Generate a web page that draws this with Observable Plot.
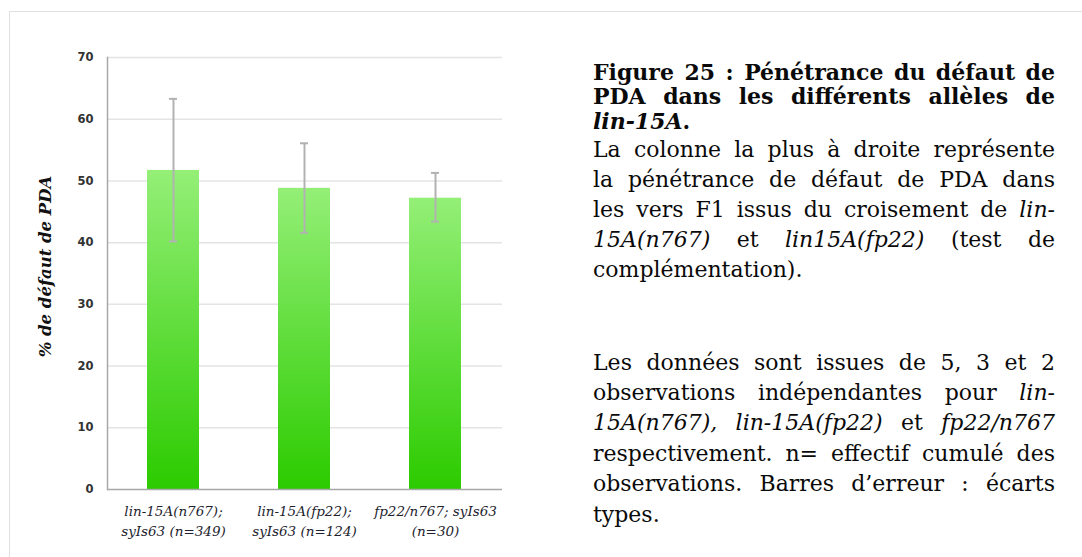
<!DOCTYPE html>
<html><head><meta charset="utf-8">
<script src="https://cdn.jsdelivr.net/npm/d3@7"></script>
<script src="https://cdn.jsdelivr.net/npm/@observablehq/plot@0.6"></script>
<style>
html,body{margin:0;padding:0;background:#fff;}
#page{position:relative;width:1082px;height:557px;overflow:hidden;background:#fff;}
#border{position:absolute;left:9px;top:11px;width:1200px;height:700px;border-top:1.5px solid #e0e0e0;border-left:1.5px solid #e0e0e0;}
#chart{position:absolute;left:0;top:0;}
#caption{position:absolute;left:593px;top:0;width:462px;height:557px;font-family:"DejaVu Serif";font-size:22px;color:#0a0a0a;}
.ln{position:absolute;left:0;white-space:nowrap;line-height:30px;display:inline-block;}
.b{font-weight:bold;}
</style></head><body>
<div id="page"><div id="border"></div><div id="chart"></div><div id="caption"></div></div>
<script>
// ---- data ----
const categories = ["lin-15A(n767);\nsyIs63 (n=349)", "lin-15A(fp22);\nsyIs63 (n=124)", "fp22/n767; syIs63\n(n=30)"];
const means = [51.7, 48.8, 47.2];
const errLow = [40.2, 41.6, 43.4];
const errHigh = [63.3, 56.1, 51.3];
const yTicks = [0, 10, 20, 30, 40, 50, 60, 70];
const yLabel = "% de défaut de PDA";

const titleLines = [
  "Figure 25 : Pénétrance du défaut de",
  "PDA dans les différents allèles de",
  "<i>lin-15A</i>."
];
const para1Lines = [
  "La colonne la plus à droite représente",
  "la pénétrance de défaut de PDA dans",
  "les vers F1 issus du croisement de <i>lin-</i>",
  "<i>15A(n767)</i> et <i>lin15A(fp22)</i> (test de",
  "complémentation)."
];
const para2Lines = [
  "Les données sont issues de 5, 3 et 2",
  "observations indépendantes pour <i>lin-</i>",
  "<i>15A(n767), lin-15A(fp22)</i> et <i>fp22/n767</i>",
  "respectivement. n= effectif cumulé des",
  "observations. Barres d’erreur : écarts",
  "types."
];

const data = categories.map((c, i) => ({cat: c, v: means[i], lo: errLow[i], hi: errHigh[i]}));

const gradient = () => {
  const defs = d3.create("svg:defs");
  const g = defs.append("linearGradient").attr("id", "barGrad")
    .attr("x1", 0).attr("y1", 0).attr("x2", 0).attr("y2", 1);
  g.append("stop").attr("offset", "0%").attr("stop-color", "#94ef77");
  g.append("stop").attr("offset", "100%").attr("stop-color", "#2ccb00");
  return defs.node();
};

const errStyle = {stroke: "#b2b2b2", strokeWidth: 2};

const plot = Plot.plot({
  width: 540, height: 557,
  marginLeft: 107, marginRight: 38, marginTop: 57, marginBottom: 68,
  style: {background: "transparent", overflow: "visible"},
  x: {domain: categories, paddingInner: 0.6, paddingOuter: 0.3, label: null},
  y: {domain: [0, 70], label: null},
  marks: [
    gradient,
    Plot.gridY(yTicks.filter(d => d > 0), {stroke: "#e4e4e4", strokeOpacity: 1, strokeWidth: 1.5}),
    Plot.barY(data, {x: "cat", y: "v", fill: "url(#barGrad)"}),
    Plot.ruleX(data, {x: "cat", y1: "lo", y2: "hi", ...errStyle}),
    Plot.tickY(data, {x: "cat", y: "lo", insetLeft: 22, insetRight: 22, ...errStyle}),
    Plot.tickY(data, {x: "cat", y: "hi", insetLeft: 22, insetRight: 22, ...errStyle}),
    Plot.frame({anchor: "left", stroke: "#a8a8a8", strokeWidth: 1.5}),
    Plot.ruleY([0], {stroke: "#a8a8a8", strokeWidth: 1.5}),
    Plot.axisY(yTicks, {tickSize: 0, tickPadding: 14, fontSize: 11.5, fontWeight: "bold", fontFamily: "DejaVu Sans", fill: "#333", label: null}),
    Plot.axisX({tickSize: 0, tickPadding: 12, fontSize: 13.5, fontFamily: "DejaVu Serif", fontStyle: "italic", lineHeight: 1.48, fill: "#1e1e2e", label: null}),
    Plot.text([yLabel], {frameAnchor: "left", rotate: -90, dx: -62, dy: -7, fontSize: 16.5, fontFamily: "DejaVu Serif", fontWeight: "bold", fontStyle: "italic", fill: "#111", textAnchor: "middle", lineAnchor: "middle"})
  ]
});
document.getElementById("chart").appendChild(plot);

// ---- caption ----
const cap = document.getElementById("caption");
const W = 462;
function addLines(lines, firstCenter, bold, lineStep) {
  lines.forEach((html, i) => {
    const el = document.createElement("div");
    el.className = "ln" + (bold ? " b" : "");
    el.innerHTML = html;
    el.style.top = (firstCenter + i * lineStep - 16.5) + "px";
    cap.appendChild(el);
    if (i < lines.length - 1) {
      const w = el.getBoundingClientRect().width;
      const n = (el.textContent.match(/ /g) || []).length;
      if (n > 0) el.style.wordSpacing = ((W - w) / n) + "px";
    }
  });
}
addLines(titleLines, 73, true, 24.5);
addLines(para1Lines, 151, false, 30.2);
addLines(para2Lines, 364, false, 30.4);
</script>
</body></html>
